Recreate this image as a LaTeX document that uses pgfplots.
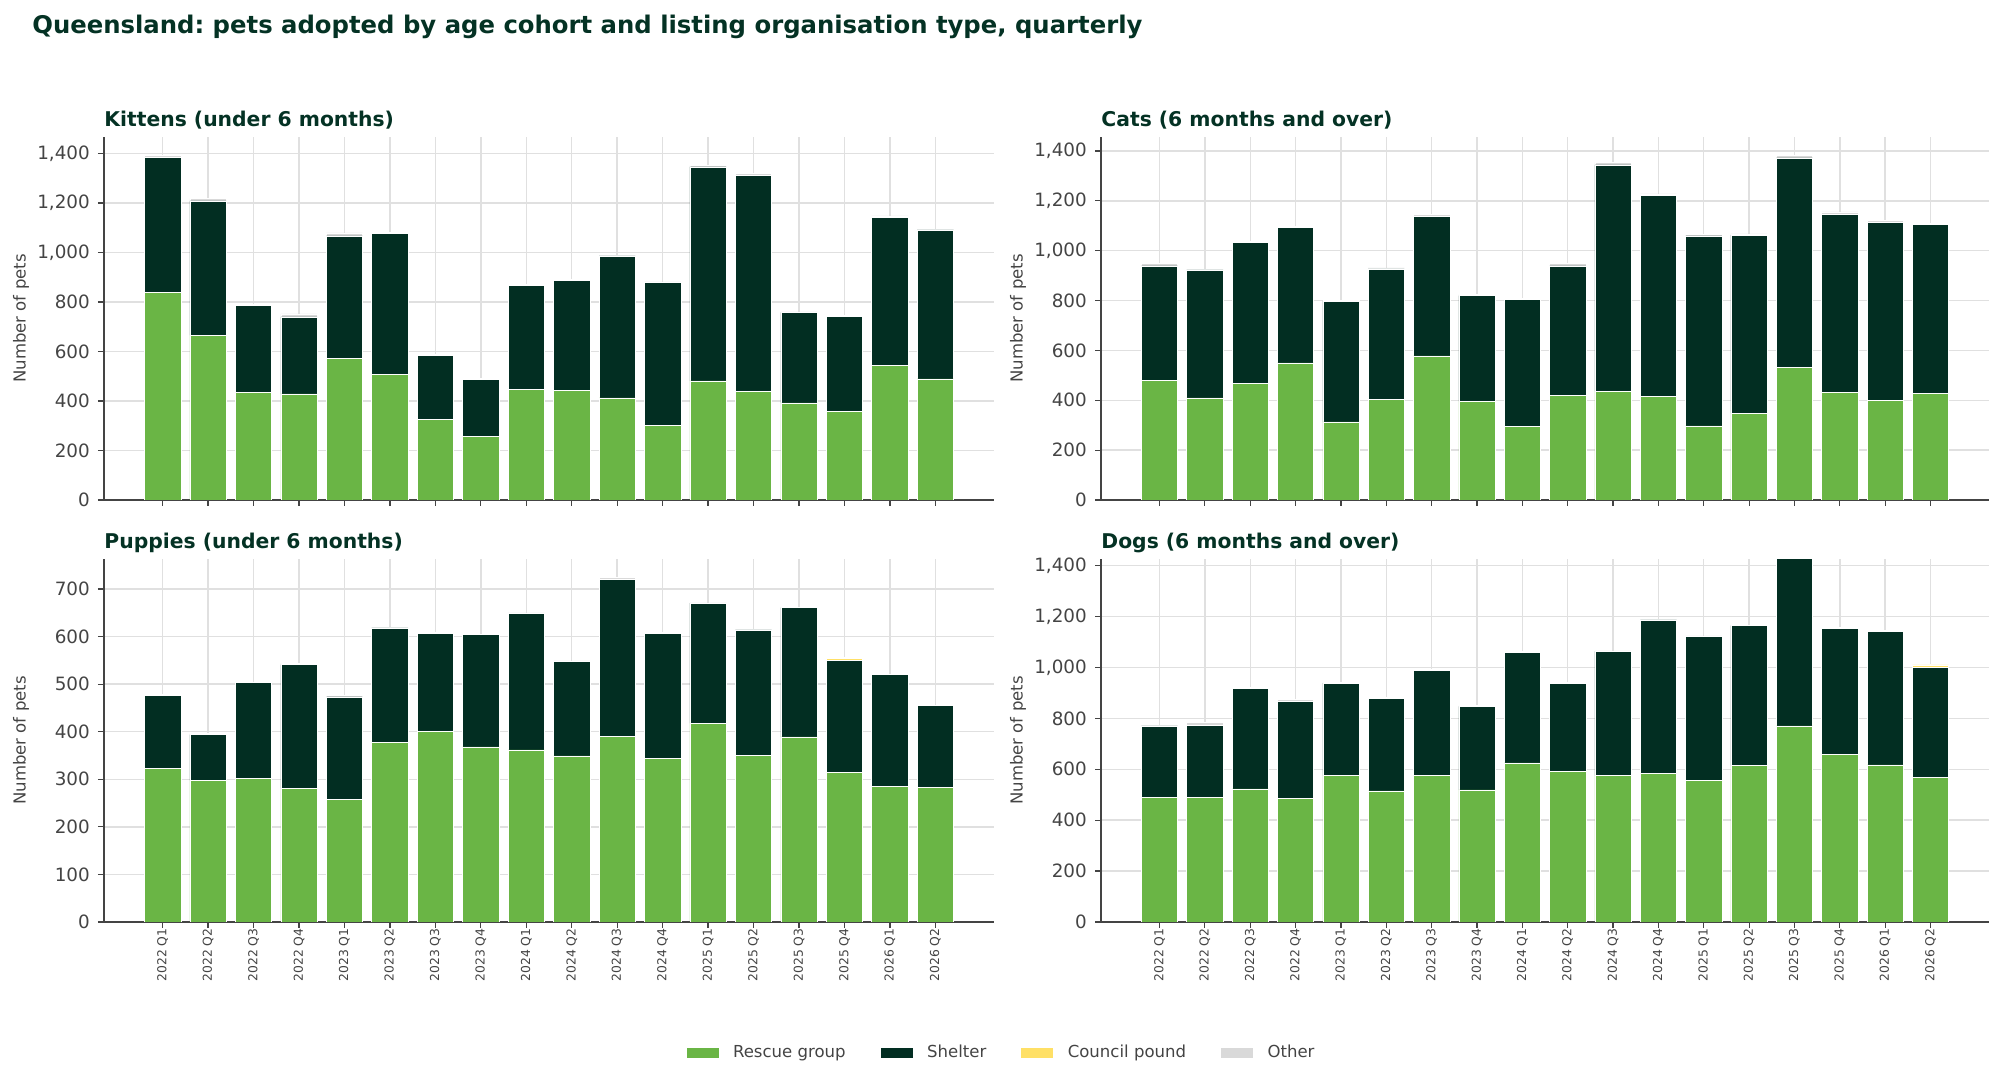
\documentclass[border=0pt]{standalone}
\usepackage{fontspec}
\setmainfont{DejaVu Sans}
\usepackage{pgfplots}
\usepackage{pgfplotstable}
\pgfplotsset{compat=1.18}
\frenchspacing
\definecolor{rescue}{RGB}{106,181,69}
\definecolor{shelter}{RGB}{2,46,34}
\definecolor{council}{RGB}{255,224,102}
\definecolor{other}{RGB}{217,217,217}
\definecolor{titlec}{RGB}{4,50,36}
\definecolor{tickc}{RGB}{68,68,68}
\definecolor{spine}{RGB}{68,68,68}
\definecolor{gridc}{RGB}{224,224,224}

% x rescue shelter council other
\pgfplotstableread{
x r s c o
0 840 544 0 8
1 666 543 0 9
2 435 350 0 5
3 429 311 0 12
4 573 494 0 12
5 508 570 0 3
6 326 258 0 3
7 257 230 0 3
8 446 421 0 3
9 442 446 0 3
10 413 574 0 2
11 303 575 0 3
12 481 865 0 5
13 440 872 0 8
14 392 366 0 2
15 359 383 0 5
16 545 598 0 5
17 489 603 0 2
}\kittens
\pgfplotstableread{
x r s c o
0 480 459 0 9
1 410 513 0 3
2 469 563 0 5
3 550 544 0 3
4 313 485 0 3
5 405 522 0 4
6 578 560 0 7
7 397 423 0 5
8 294 512 0 4
9 420 519 0 9
10 436 908 0 9
11 416 807 0 5
12 297 762 0 5
13 348 714 0 5
14 532 840 0 11
15 433 713 0 10
16 401 712 0 10
17 427 679 3 2
}\cats
\pgfplotstableread{
x r s c o
0 323 154 0 2
1 298 96 0 2
2 302 201 0 1
3 281 260 0 3
4 257 216 0 3
5 377 241 0 1
6 401 206 0 1
7 368 236 0 1
8 362 287 0 1
9 349 199 0 1
10 390 330 0 5
11 344 263 0 1
12 418 252 0 1
13 351 263 0 1
14 389 272 0 1
15 314 236 5 1
16 285 235 0 1
17 283 172 0 1
}\puppies
\pgfplotstableread{
x r s c o
0 489 281 0 3
1 491 282 0 10
2 523 395 0 3
3 486 381 0 8
4 575 363 0 2
5 515 364 0 4
6 575 413 0 3
7 519 328 0 3
8 625 435 0 3
9 591 347 0 2
10 575 488 0 2
11 583 604 0 2
12 557 565 0 2
13 614 550 0 2
14 770 660 0 3
15 659 495 0 2
16 617 525 4 1
17 568 433 9 1
}\dogs

\pgfplotsset{
  panel/.style={
    scale only axis, width=445bp, height=181.5bp,
    ybar stacked, bar width=0.8,
    xmin=-1.29, xmax=18.29, ymin=0,
    xtick={0,...,17},
    axis x line*=bottom, axis y line*=left,
    axis line style={-, line width=0.75bp, color=spine},
    tick align=outside, major tick length=3bp,
    tick style={line width=0.6bp, color=spine},
    xmajorgrids, ymajorgrids,
    major grid style={line width=0.7bp, color=gridc},
    ylabel={Number of pets},
    every axis y label/.style={at={(rel axis cs:0,0.5)}, anchor=center, rotate=90, yshift=41.5bp,
      font=\fontsize{8.3}{8.3}\selectfont, text=tickc, inner sep=0pt},
    yticklabel style={font=\fontsize{9.2}{9.2}\selectfont, color=tickc, inner sep=0pt, xshift=-3.9bp},
    xticklabel style={font=\fontsize{6.2}{6.2}\selectfont, color=tickc, rotate=90, anchor=east, inner sep=0pt},
    scaled y ticks=false,
    /pgf/number format/1000 sep={,},
    /pgf/number format/assume math mode=true,
    every axis title/.style={at={(rel axis cs:0,1)}, anchor=base west, yshift=5.2bp, inner sep=0pt,
      font=\bfseries\fontsize{10.2}{10.2}\selectfont, text=titlec},
    every axis plot post/.append style={legend image code/.code={\fill[##1] (0bp,-2.75bp) rectangle (16.5bp,2.75bp);}},
  },
  bars/.style={draw=white, line width=0.25bp},
}

\newcommand{\qlabels}{2022 Q1,2022 Q2,2022 Q3,2022 Q4,2023 Q1,2023 Q2,2023 Q3,2023 Q4,2024 Q1,2024 Q2,2024 Q3,2024 Q4,2025 Q1,2025 Q2,2025 Q3,2025 Q4,2026 Q1,2026 Q2}

\begin{document}
\begin{tikzpicture}
\useasboundingbox (0,0) rectangle (1000bp,541bp);
\node[anchor=base west, inner sep=0pt, font=\bfseries\fontsize{12.2}{12.2}\selectfont, text=titlec] at (16bp,524.4bp)
  {Queensland: pets adopted by age cohort and listing organisation type, quarterly};

\begin{axis}[panel, at={(52bp,291bp)}, anchor=south west,
  ymax=1467, ytick={0,200,...,1400}, xticklabels={},
  title={Kittens (under 6 months)}]
\addplot[bars, fill=rescue] table[x=x,y=r] {\kittens};
\addplot[bars, fill=shelter] table[x=x,y=s] {\kittens};
\addplot[bars, fill=council] table[x=x,y=c] {\kittens};
\addplot[bars, fill=other] table[x=x,y=o] {\kittens};
\end{axis}

\begin{axis}[panel, at={(550.5bp,291bp)}, anchor=south west, width=444bp,
  ymax=1456, ytick={0,200,...,1400}, xticklabels={},
  title={Cats (6 months and over)}]
\addplot[bars, fill=rescue] table[x=x,y=r] {\cats};
\addplot[bars, fill=shelter] table[x=x,y=s] {\cats};
\addplot[bars, fill=council] table[x=x,y=c] {\cats};
\addplot[bars, fill=other] table[x=x,y=o] {\cats};
\end{axis}

\begin{axis}[panel, at={(52bp,80bp)}, anchor=south west,
  ymax=763, ytick={0,100,...,700}, xticklabels/.expand once={\qlabels},
  title={Puppies (under 6 months)}]
\addplot[bars, fill=rescue] table[x=x,y=r] {\puppies};
\addplot[bars, fill=shelter] table[x=x,y=s] {\puppies};
\addplot[bars, fill=council] table[x=x,y=c] {\puppies};
\addplot[bars, fill=other] table[x=x,y=o] {\puppies};
\end{axis}

\begin{axis}[panel, at={(550.5bp,80bp)}, anchor=south west, width=444bp,
  ymax=1426, ytick={0,200,...,1400}, xticklabels/.expand once={\qlabels},
  title={Dogs (6 months and over)},
  legend columns=4,
  legend style={at={(rel axis cs:-0.1137,-0.3609)}, anchor=center, draw=none, fill=none,
    inner sep=0pt, font=\fontsize{8.3}{8.3}\selectfont, text=tickc,
    nodes={inner sep=0pt, anchor=west},
    /tikz/every odd column/.append style={column sep=7bp},
    /tikz/every even column/.append style={column sep=17bp}},
  ]
\addplot[bars, fill=rescue] table[x=x,y=r] {\dogs};
\addplot[bars, fill=shelter] table[x=x,y=s] {\dogs};
\addplot[bars, fill=council] table[x=x,y=c] {\dogs};
\addplot[bars, fill=other] table[x=x,y=o] {\dogs};
\legend{Rescue group,Shelter,Council pound,Other}
\end{axis}
\end{tikzpicture}
\end{document}
